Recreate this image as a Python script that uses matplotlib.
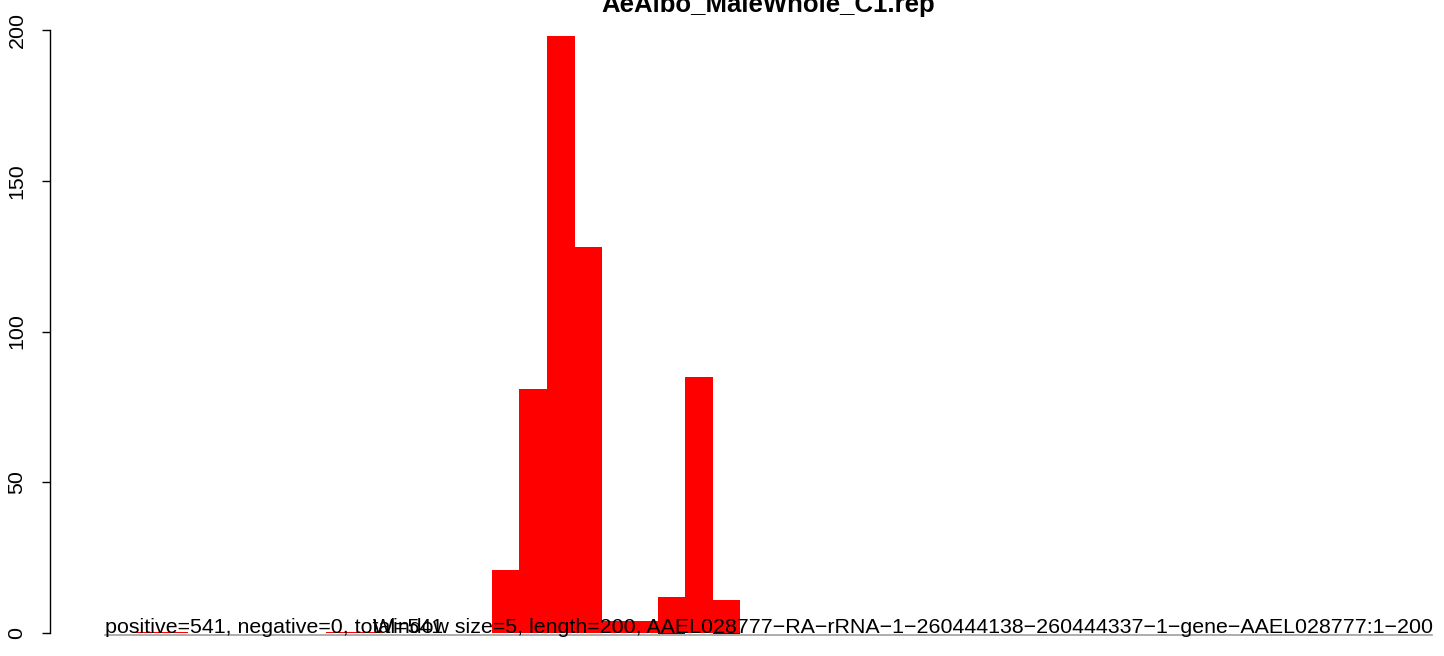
import matplotlib
matplotlib.use("Agg")
import matplotlib.pyplot as plt

plt.rcParams['font.family'] = ['Liberation Sans', 'DejaVu Sans']

# Datos: inicio de cada ventana (tamaño 5) y conteos
inicios = [5, 10, 40, 45, 70, 75, 80, 85, 90, 95, 100, 105, 110]
positivos = [0.4, 0.4, 0.4, 0.4, 21, 81, 198, 128, 4, 4, 12, 85, 11]
inicios_neg = [100, 110]
negativos = [-0.4, -0.4]
ventana = 5

titulo = "AeAlbo_MaleWhole_C1.rep"
texto1 = "positive=541, negative=0, total=541"
texto2 = ("Window size=5, length=200, "
          "AAEL028777\u2212RA\u2212rRNA\u22121\u2212260444138\u2212260444337\u22121\u2212gene\u2212AAEL028777:1\u2212200")
yticks = [0, 50, 100, 150, 200]

W, H = 1444, 656
fig = plt.figure(figsize=(W / 100, H / 100), dpi=100)

# region del grafico en pixeles (se sale un poco por la derecha, como en el original)
x0, x1 = 50, 1486
y_top, y_bot = 6, 657
ax = fig.add_axes([x0 / W, (H - y_bot) / H, (x1 - x0) / W, (y_bot - y_top) / H])
ax.set_xlim(-10, 250)
ax.set_ylim(-8, 208)

ax.bar(inicios, positivos, width=ventana, align='edge', color='#FF0000', linewidth=0)
ax.bar(inicios_neg, negativos, width=ventana, align='edge', color='#0000FF', linewidth=0)
ax.plot([0, 240.3], [-0.8, -0.8], color='#A0A0A0', linewidth=1.2)

fs = 15.4
ax.text(0, 0, texto1, fontsize=fs, ha='left', va='baseline', color='black')
ax.text(48.5, 0, texto2, fontsize=fs, ha='left', va='baseline', color='black')

for s in ['top', 'right', 'bottom']:
    ax.spines[s].set_visible(False)
ax.spines['left'].set_bounds(0, 200)
ax.spines['left'].set_linewidth(1.0)
ax.set_xticks([])
ax.set_yticks(yticks)
ax.set_yticklabels([str(v) for v in yticks], rotation=90, va='center', fontsize=fs)
ax.tick_params(axis='y', length=6, width=1.0, pad=11)

fig.text(768 / W, 1 - 12 / H, titulo, ha='center', va='baseline',
         fontsize=18.5, fontweight='bold')

fig.savefig("out.png", dpi=100)
